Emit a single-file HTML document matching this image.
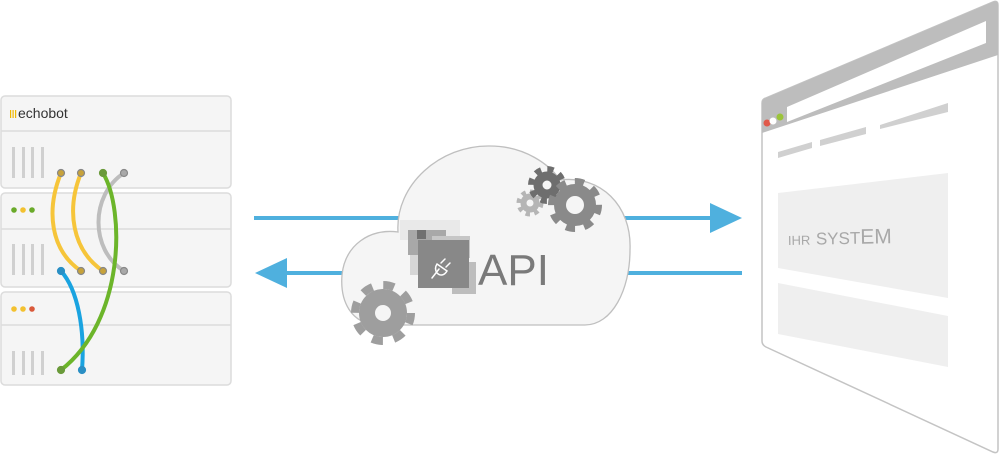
<!DOCTYPE html>
<html><head><meta charset="utf-8"><style>
html,body{margin:0;padding:0;background:#fff;width:1000px;height:455px;overflow:hidden}
svg{display:block}
</style></head><body>
<svg width="1000" height="455" viewBox="0 0 1000 455" xmlns="http://www.w3.org/2000/svg" font-family="Liberation Sans, sans-serif">
<!-- server -->
<g stroke="#dcdcdc" stroke-width="1.5" fill="#f5f5f5">
<rect x="1" y="96" width="230" height="92" rx="4"/>
<rect x="1" y="193" width="230" height="94" rx="4"/>
<rect x="1" y="292" width="230" height="93" rx="4"/>
<line x1="1" y1="131" x2="231" y2="131"/>
<line x1="1" y1="229" x2="231" y2="229"/>
<line x1="1" y1="325" x2="231" y2="325"/>
</g>
<g fill="#f0b800"><rect x="10" y="110" width="1.2" height="8"/><rect x="12.5" y="110" width="1.2" height="8"/><rect x="15" y="110" width="1.2" height="8"/></g>
<text x="18" y="118" font-size="14" fill="#333">echobot</text>
<g fill="#d0d0d0">
<rect x="12" y="147" width="3" height="31"/><rect x="22" y="147" width="3" height="31"/><rect x="31" y="147" width="3" height="31"/><rect x="41" y="147" width="3" height="31"/>
<rect x="12" y="244" width="3" height="31"/><rect x="22" y="244" width="3" height="31"/><rect x="31" y="244" width="3" height="31"/><rect x="41" y="244" width="3" height="31"/>
<rect x="12" y="351" width="3" height="24"/><rect x="22" y="351" width="3" height="24"/><rect x="31" y="351" width="3" height="24"/><rect x="41" y="351" width="3" height="24"/>
</g>
<circle cx="14" cy="210" r="2.8" fill="#6aaa2a"/><circle cx="23" cy="210" r="2.8" fill="#f3c130"/><circle cx="32" cy="210" r="2.8" fill="#6aaa2a"/>
<circle cx="14" cy="309" r="2.8" fill="#f3c130"/><circle cx="23" cy="309" r="2.8" fill="#f3c130"/><circle cx="32" cy="309" r="2.8" fill="#d9593a"/>
<g fill="none" stroke-width="4" stroke-linecap="round">
<path d="M61 173 C46 210 50 250 81 271" stroke="#f6c53a"/>
<path d="M81 173 C66 210 72 250 103 271" stroke="#f6c53a"/>
<path d="M124 173 C90 195 90 250 124 271" stroke="#bdbdbd"/>
<path d="M61 271 C78 290 85 330 82 370" stroke="#1aa3e0"/>
<path d="M103 173 C125 210 125 320 61 370" stroke="#6cb52a"/>
</g>
<g stroke-width="1.2">
<circle cx="61" cy="173" r="3.5" fill="#c7a23a" stroke="#888"/><circle cx="81" cy="173" r="3.5" fill="#c7a23a" stroke="#888"/><circle cx="103" cy="173" r="3.5" fill="#6a9a3a" stroke="#6a9a3a"/><circle cx="124" cy="173" r="3.5" fill="#a8a8a8" stroke="#888"/>
<circle cx="61" cy="271" r="3.5" fill="#2a8fc4" stroke="#2a8fc4"/><circle cx="81" cy="271" r="3.5" fill="#c7a23a" stroke="#888"/><circle cx="103" cy="271" r="3.5" fill="#c7a23a" stroke="#888"/><circle cx="124" cy="271" r="3.5" fill="#a8a8a8" stroke="#888"/>
<circle cx="61" cy="370" r="3.5" fill="#6a9a3a" stroke="#6a9a3a"/><circle cx="82" cy="370" r="3.5" fill="#2a8fc4" stroke="#2a8fc4"/>
</g>
<!-- arrows -->
<line x1="254" y1="218" x2="712" y2="218" stroke="#4fb0de" stroke-width="4"/>
<polygon points="710,203 742,218 710,233" fill="#4fb0de"/>
<line x1="742" y1="273" x2="284" y2="273" stroke="#4fb0de" stroke-width="4"/>
<polygon points="287,258 255,273 287,288" fill="#4fb0de"/>
<!-- cloud -->
<path d="M380 325 C350 325 340 300 342 275 C345 245 370 228 398 232 C395 185 440 145 490 146 C525 146 550 165 560 180 C600 175 632 205 630 250 C630 290 612 325 585 325 Z" fill="#f5f5f5" stroke="#bfbfbf" stroke-width="1.3"/>
<!-- gears -->
<g fill="none">
<g stroke="#9e9e9e"><circle cx="383" cy="313" r="28" stroke-width="8" stroke-dasharray="11 11"/><circle cx="383" cy="313" r="16" stroke-width="16"/></g>
<g stroke="#b5b5b5"><circle cx="530" cy="203" r="11" stroke-width="5" stroke-dasharray="4.3 4.3"/><circle cx="530" cy="203" r="6.5" stroke-width="6"/></g>
<g stroke="#6e6e6e"><circle cx="547" cy="185" r="16" stroke-width="6" stroke-dasharray="6.3 6.3"/><circle cx="547" cy="185" r="9" stroke-width="9"/></g>
<g stroke="#8a8a8a"><circle cx="575" cy="205" r="23.5" stroke-width="7" stroke-dasharray="9.2 9.2"/><circle cx="575" cy="205" r="15" stroke-width="12"/></g>
</g>
<!-- API icon -->
<rect x="400" y="220" width="60" height="20" fill="#e9e9e9"/>
<rect x="408" y="230" width="38" height="25" fill="#a8a8a8"/>
<rect x="417" y="230" width="9" height="9" fill="#707070"/>
<rect x="432" y="236" width="38" height="22" fill="#c6c6c6"/>
<rect x="410" y="255" width="20" height="20" fill="#d6d6d6"/>
<rect x="452" y="262" width="24" height="32" fill="#bdbdbd"/>
<rect x="418" y="240" width="51" height="48" fill="#888"/>
<g stroke="#fff" stroke-width="1.5" fill="none" stroke-linecap="round">
<path d="M432 278 L439 269"/><path d="M437 264 L447 271 C444 276 440 276 437 273 C435 270 435 267 437 264 Z"/><path d="M441 263 L445 259 M446 267 L450 263"/>
</g>
<text x="478" y="285" font-size="44" fill="#7a7a7a">API</text>
<!-- browser -->
<path d="M762 103 Q762 99 766 98 L993 2 Q998 0 998 5 L998 449 Q998 454 993 452 L766 347 Q762 345 762 341 Z" fill="#fff" stroke="#c4c4c4" stroke-width="1.5"/>
<path d="M762 103 Q762 99 766 98 L993 2 Q998 0 998 5 L998 55 L762 133 Z" fill="#bdbdbd"/>
<polygon points="787,107 986,21 986,43 787,122" fill="#fff"/>
<circle cx="767" cy="123" r="3.5" fill="#e0594a"/><circle cx="773" cy="121" r="3.5" fill="#fff"/><circle cx="780" cy="117" r="3.5" fill="#9bc43a"/>
<g fill="#d0d0d0">
<polygon points="778,152 812,142 812,148 778,158"/>
<polygon points="820,140 866,127 866,134 820,146"/>
<polygon points="880,125 948,103 948,112 880,129"/>
</g>
<polygon points="778,193 948,173 948,298 778,268" fill="#efefef"/>
<polygon points="778,283 948,316 948,367 778,334" fill="#efefef"/>
<text x="788" y="245" font-size="20" fill="#a8a8a8" transform="rotate(-1 788 245)"><tspan font-size="13">IHR</tspan> <tspan font-size="17">SYST</tspan><tspan font-size="21">EM</tspan></text>
</svg>
</body></html>
